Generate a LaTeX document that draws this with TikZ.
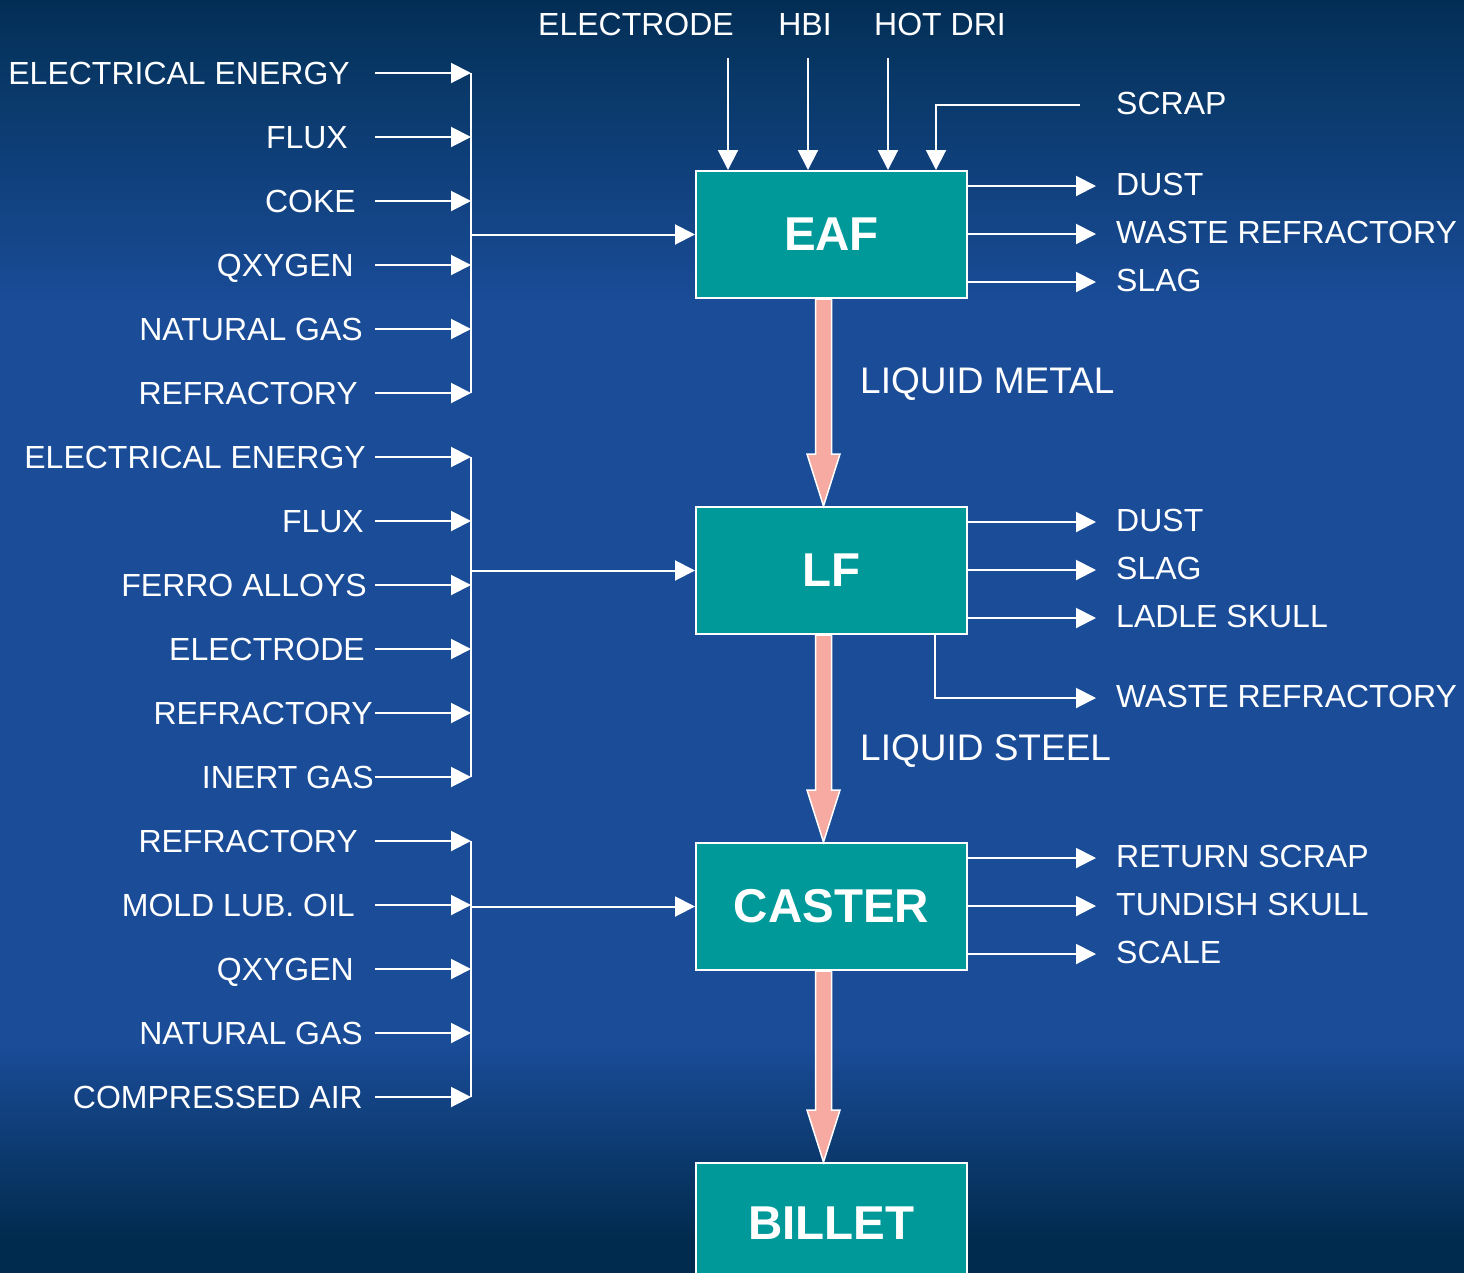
\documentclass[tikz,border=0pt]{standalone}
\usepackage{fontspec}
\setmainfont{Liberation Sans}
\usetikzlibrary{arrows.meta,calc}
\definecolor{teal1}{HTML}{009999}
\definecolor{pinkf}{HTML}{F6AAA2}
\definecolor{bgtop}{HTML}{022D55}
\definecolor{bgtopb}{HTML}{06345F}
\definecolor{bgmid}{HTML}{1A4C98}
\definecolor{bgbot}{HTML}{012B4E}
\pgfdeclareverticalshading{bgsh}{100bp}{color(0bp)=(bgbot); color(26.3bp)=(bgbot); color(34bp)=(bgmid); color(63bp)=(bgmid); color(73.4bp)=(bgtopb); color(75bp)=(bgtop); color(100bp)=(bgtop)}
\begin{document}
\begin{tikzpicture}[x=1pt,y=-1pt,
 lbl/.style={text=white, font=\fontsize{32}{36}\selectfont, inner sep=0pt, text height=23pt, text depth=0pt},
 big/.style={lbl, font=\fontsize{37}{40}\selectfont, text height=26.5pt},
 box/.style={draw=white, line width=2pt, fill=teal1, minimum width=271pt, minimum height=127pt, text=white, font=\bfseries\fontsize{47.5}{50}\selectfont, inner sep=0pt},
 arr/.style={draw=white, line width=2pt, -{Triangle[length=20pt,width=20pt]}},
 ln/.style={draw=white, line width=2pt},
 fat/.style={fill=pinkf, draw=white, line width=1.5pt, line join=miter}
]
\useasboundingbox (0,0) rectangle (1464,1272);
\shade[shading=bgsh] (0,0) rectangle (1464,1272);

% boxes
\node[box] (eaf) at (831.5,234.5) {EAF};
\node[box] (lf) at (831.5,570.5) {LF};
\node[box] (caster) at (831.5,906.5) {CASTER};
\node[box, minimum height=120pt] (billet) at (831.5,1223) {BILLET};

% fat arrows
\foreach \a/\b in {eaf/lf, lf/caster, caster/billet}{
  \draw[fat] let \p1=(\a.south), \p2=(\b.north) in
   (\x1-16pt,\y1) -- (\x1,\y1) -- (\x1,\y2+52pt) -- (\x1+8.5pt,\y2+52pt) -- (\x1-8pt,\y2)
   -- (\x1-24.5pt,\y2+52pt) -- (\x1-16pt,\y2+52pt) -- cycle;
}

% left inputs
\foreach \i/\y/\xe/\t in {
 1/73/350/ELECTRICAL ENERGY, 2/137/348/FLUX, 3/201/356/COKE, 4/265/354/QXYGEN,
 5/329/363/NATURAL GAS, 6/393/358/REFRACTORY,
 7/457/366/ELECTRICAL ENERGY, 8/521/364/FLUX, 9/585/367/FERRO ALLOYS, 10/649/365/ELECTRODE,
 11/713/373/REFRACTORY, 12/777/374/INERT GAS,
 13/841/358/REFRACTORY, 14/905/355/MOLD LUB. OIL, 15/969/354/QXYGEN, 16/1033/363/NATURAL GAS,
 17/1097/363/COMPRESSED AIR}{
  \node[lbl, anchor=east] (L\i) at (\xe,\y) {\t};
  \coordinate (s\i) at (375,\y);
  \coordinate (e\i) at (471,\y);
  \draw[arr] (s\i) -- (e\i);
}
% buses
\draw[ln] (e1) -- (e6);
\draw[ln] (e7) -- (e12);
\draw[ln] (e13) -- (e17);
\coordinate (b1) at (471,234.5);
\coordinate (b2) at (471,570.5);
\coordinate (b3) at (471,906.5);
\draw[arr] (b1) -- (eaf.west);
\draw[arr] (b2) -- (lf.west);
\draw[arr] (b3) -- (caster.west);

% top inputs
\node[lbl] (tel) at (636,24) {ELECTRODE};
\node[lbl] (thbi) at (805,24) {HBI};
\node[lbl] (tdri) at (940,24) {HOT DRI};
\coordinate (t1) at (728,58);
\coordinate (t2) at (808,58);
\coordinate (t3) at (888,58);
\draw[arr] (t1) -- (t1 |- eaf.north);
\draw[arr] (t2) -- (t2 |- eaf.north);
\draw[arr] (t3) -- (t3 |- eaf.north);
\node[lbl, anchor=west] (scr) at (1116,103) {SCRAP};
\coordinate (sc) at (1080,105);
\coordinate (scb) at (936,105);
\draw[arr] (sc) -- (scb) -- (scb |- eaf.north);

% right outputs
\foreach \i/\y/\bx/\t in {
 1/186/eaf/DUST, 2/234/eaf/WASTE REFRACTORY, 3/282/eaf/SLAG,
 4/522/lf/DUST, 5/570/lf/SLAG, 6/618/lf/LADLE SKULL,
 7/858/caster/RETURN SCRAP, 8/906/caster/TUNDISH SKULL, 9/954/caster/SCALE}{
  \coordinate (r\i) at (1096,\y);
  \node[lbl, anchor=west] (R\i) at (1116,\y-2) {\t};
  \draw[arr] (\bx.east |- r\i) -- (r\i);
}
\coordinate (wr) at (1096,698);
\coordinate (wrc) at (935,698);
\node[lbl, anchor=west] (Rw) at (1116,696) {WASTE REFRACTORY};
\draw[arr] (wrc |- lf.south) -- (wrc) -- (wr);

% liquid labels
\node[big, anchor=west] (lm) at (860,380) {LIQUID METAL};
\node[big, anchor=west] (ls) at (860,747) {LIQUID STEEL};
\end{tikzpicture}
\end{document}
